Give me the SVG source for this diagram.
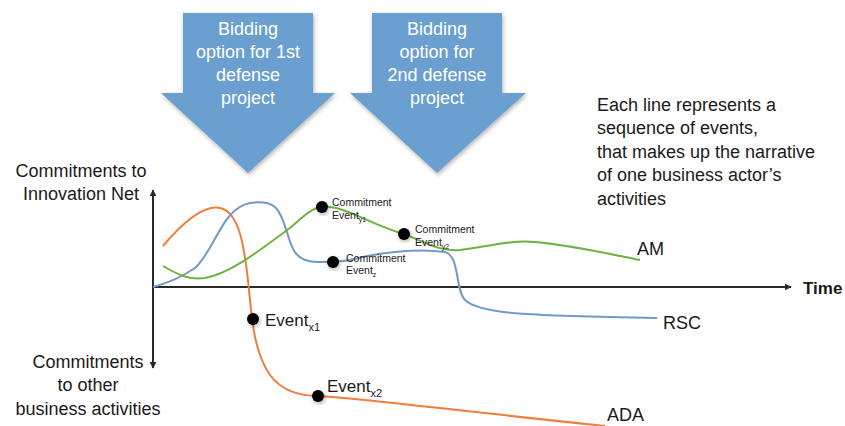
<svg xmlns="http://www.w3.org/2000/svg" width="845" height="426" viewBox="0 0 845 426">
<defs>
<style>
.t{font-family:"Liberation Sans",Arial,sans-serif;fill:#1a1a1a}
.big{font-size:18px}
.sm{font-size:10.5px}
.arr{fill:#6b9fcf}
.at{font-family:"Liberation Sans",Arial,sans-serif;font-size:18px;fill:#ffffff;text-anchor:middle}
.axis{stroke:#2a2a2a;stroke-width:2;fill:none}
.ln{fill:none;stroke-width:2}
.dot{fill:#000000}
</style>
<filter id="sh" x="-20%" y="-20%" width="140%" height="140%">
<feDropShadow dx="1" dy="2" stdDeviation="2" flood-color="#000" flood-opacity="0.3"/>
</filter>
<marker id="ah" viewBox="0 0 10 10" refX="9" refY="5" markerWidth="7" markerHeight="7" orient="auto-start-reverse" markerUnits="userSpaceOnUse">
<path d="M0,0 L10,5 L0,10 z" fill="#2a2a2a"/>
</marker>
</defs>
<rect width="845" height="426" fill="#ffffff"/>

<g id="arrow1">
<polygon class="arr" filter="url(#sh)" points="183,13 313,13 313,93 335,93 248,173 161,93 183,93"/>
<text class="at" x="248" y="35">Bidding</text>
<text class="at" x="248" y="58">option for 1st</text>
<text class="at" x="248" y="81">defense</text>
<text class="at" x="248" y="104">project</text>
</g>
<g id="arrow2">
<polygon class="arr" filter="url(#sh)" points="372,13 502,13 502,93 526,93 437,173 350,93 372,93"/>
<text class="at" x="437" y="35">Bidding</text>
<text class="at" x="437" y="58">option for</text>
<text class="at" x="437" y="81">2nd defense</text>
<text class="at" x="437" y="104">project</text>
</g>

<g id="axes">
<line class="axis" x1="153" y1="190" x2="153" y2="368" marker-start="url(#ah)" marker-end="url(#ah)"/>
<line class="axis" x1="153" y1="287" x2="791" y2="287" marker-end="url(#ah)"/>
<text class="t" x="803" y="294" style="font-size:17px;font-weight:bold">Time</text>
</g>

<g id="yaxis-labels">
<text class="t big" x="81" y="177" text-anchor="middle">Commitments to</text>
<text class="t big" x="81" y="200" text-anchor="middle">Innovation Net</text>
<text class="t big" x="88" y="368" text-anchor="middle">Commitments</text>
<text class="t big" x="88" y="391" text-anchor="middle">to other</text>
<text class="t big" x="88" y="415" text-anchor="middle">business activities</text>
</g>

<g id="note">
<text class="t big" x="597" y="111">Each line represents a</text>
<text class="t big" x="597" y="134">sequence of events,</text>
<text class="t big" x="597" y="158">that makes up the narrative</text>
<text class="t big" x="597" y="181">of one business actor’s</text>
<text class="t big" x="597" y="205">activities</text>
</g>

<g id="connectors">
<path id="ada-line" class="ln" stroke="#f07e3a" d="M163,246 C185,220 205,205 220,208 C240,212 245,250 249,290 C252,320 254,352 270,375 C282,391 300,396 318,396 C360,398 450,410 605,426"/>
<path id="rsc-line" class="ln" stroke="#7399c6" d="M153,287 C170,282 180,278 195,268 C215,250 222,208 250,203 C278,199 280,212 287,232 C292,250 296,262 318,262 C330,262 340,262 350,260 C380,252 420,248 445,252 C460,256 455,290 465,300 C480,315 540,316 657,318"/>
<path id="am-line" class="ln" stroke="#6cb33f" d="M163,266 C180,276 190,280 205,278 C230,274 260,250 290,228 C300,220 310,208 322,207 C345,205 370,225 404,234 C425,242 440,252 460,250 C490,246 510,240 535,242 C570,245 605,253 640,260"/>
</g>

<g id="series-labels">
<text class="t big" x="637" y="255">AM</text>
<text class="t big" x="663" y="329">RSC</text>
<text class="t big" x="607" y="421">ADA</text>
</g>

<g id="event-y1">
<circle class="dot" filter="url(#sh)" cx="322" cy="207" r="6"/>
<text class="t sm" x="332" y="206">Commitment</text>
<text class="t sm" x="332" y="219">Event<tspan font-size="7" dy="3">y1</tspan></text>
</g>
<g id="event-y2">
<circle class="dot" filter="url(#sh)" cx="404" cy="234" r="6"/>
<text class="t sm" x="415" y="233">Commitment</text>
<text class="t sm" x="415" y="246">Event<tspan font-size="7" dy="3">y2</tspan></text>
</g>
<g id="event-z">
<circle class="dot" filter="url(#sh)" cx="333" cy="262" r="6"/>
<text class="t sm" x="346" y="262">Commitment</text>
<text class="t sm" x="346" y="274">Event<tspan font-size="7" dy="3">z</tspan></text>
</g>
<g id="event-x1">
<circle class="dot" filter="url(#sh)" cx="253" cy="319" r="6"/>
<text class="t" x="265" y="326" style="font-size:17px">Event<tspan font-size="11" dy="5">x1</tspan></text>
</g>
<g id="event-x2">
<circle class="dot" filter="url(#sh)" cx="318" cy="396" r="6"/>
<text class="t" x="327" y="392" style="font-size:17px">Event<tspan font-size="11" dy="5">x2</tspan></text>
</g>
</svg>
